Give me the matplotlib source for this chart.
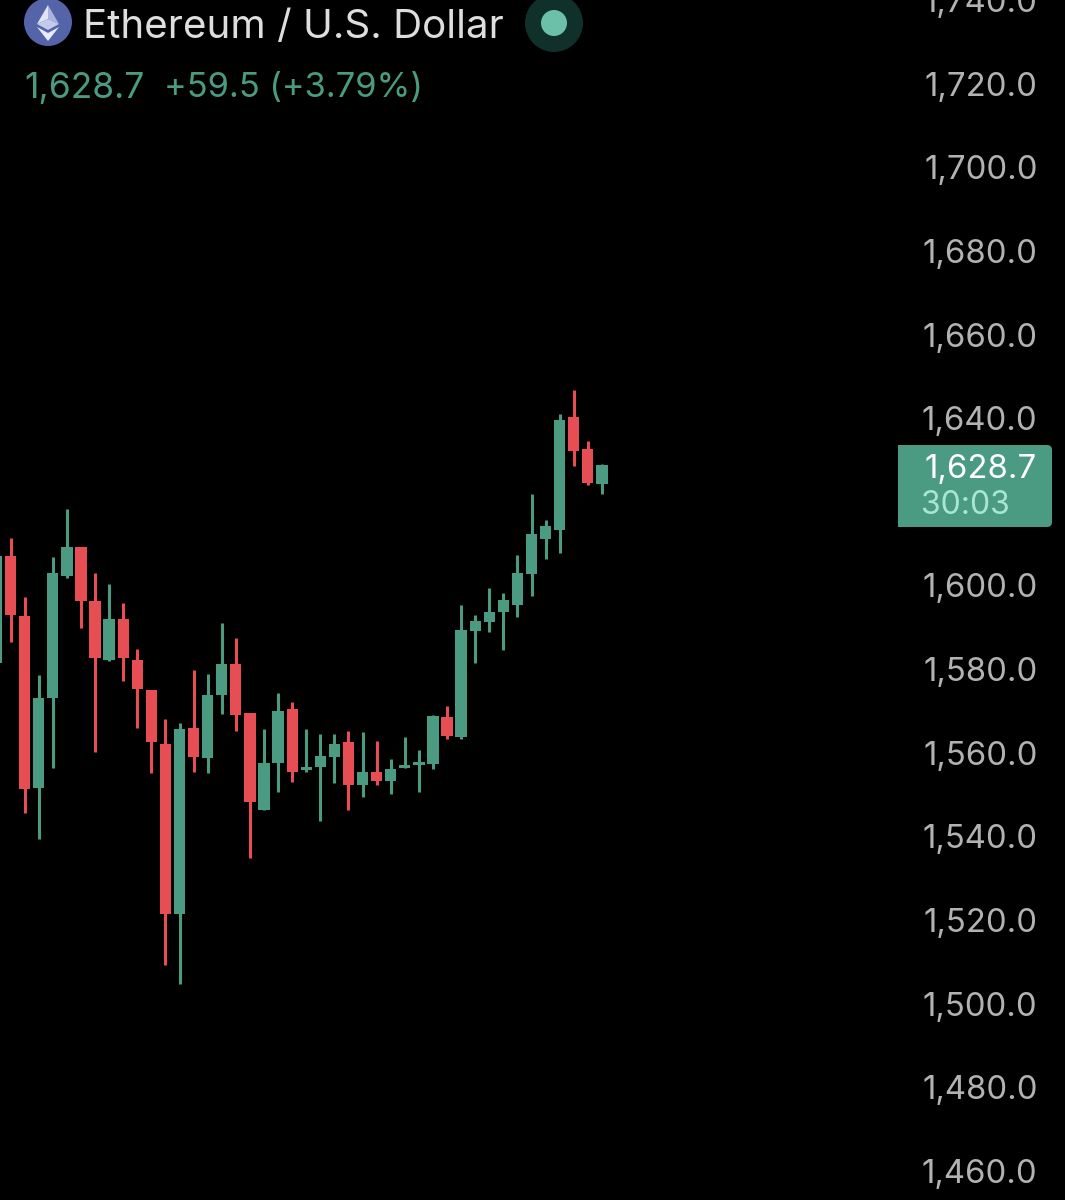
import matplotlib
matplotlib.use("Agg")
import matplotlib.pyplot as plt
from matplotlib.patches import Circle, FancyBboxPatch, Polygon, Rectangle

plt.rcParams['font.family'] = ['Inter', 'DejaVu Sans']

# candles, oldest first
opens = [1581.4, 1607.0, 1592.7, 1551.5, 1573.1, 1602.2, 1609.2, 1596.2, 1582.1, 1591.9, 1582.1,
         1575.0, 1562.1, 1521.4, 1565.9, 1558.7, 1573.8, 1581.2, 1569.5, 1546.3, 1557.5, 1570.4,
         1555.8, 1556.6, 1558.9, 1562.5, 1552.3, 1555.4, 1553.2, 1556.3, 1557.0, 1557.3, 1568.5,
         1563.7, 1589.1, 1591.2, 1593.6, 1595.3, 1602.7, 1611.1, 1613.2, 1640.2, 1632.6, 1624.2]
closes = [1607.0, 1592.9, 1551.3, 1573.1, 1602.9, 1609.2, 1596.2, 1582.6, 1591.9, 1582.6, 1575.2,
          1562.5, 1521.4, 1565.6, 1558.9, 1573.8, 1581.2, 1569.0, 1548.2, 1557.5, 1569.9, 1555.4,
          1556.6, 1559.2, 1562.1, 1552.3, 1555.4, 1553.2, 1556.1, 1557.0, 1557.7, 1568.7, 1564.0,
          1589.3, 1591.5, 1593.6, 1596.5, 1602.9, 1612.3, 1614.2, 1639.5, 1632.1, 1624.5, 1628.7]
highs = [1607.0, 1611.3, 1597.2, 1578.6, 1606.8, 1618.2, 1609.3, 1602.9, 1600.3, 1595.8, 1584.8,
         1575.0, 1568.0, 1567.1, 1579.7, 1578.8, 1591.0, 1587.4, 1569.5, 1565.6, 1574.2, 1572.1,
         1565.6, 1564.4, 1564.4, 1565.2, 1564.9, 1562.8, 1558.5, 1563.7, 1560.6, 1569.0, 1571.1,
         1595.3, 1592.9, 1599.4, 1598.2, 1607.2, 1621.8, 1615.6, 1641.0, 1646.7, 1634.5, 1629.0]
lows = [1581.4, 1586.4, 1545.6, 1539.3, 1556.3, 1601.7, 1589.8, 1560.1, 1581.9, 1577.1, 1565.9,
        1555.1, 1509.2, 1504.7, 1555.4, 1555.1, 1569.2, 1565.2, 1534.8, 1546.3, 1550.6, 1553.0,
        1555.4, 1543.6, 1552.7, 1546.3, 1549.4, 1552.3, 1550.1, 1556.3, 1550.6, 1556.1, 1563.2,
        1563.2, 1581.4, 1588.8, 1584.5, 1592.4, 1597.4, 1606.3, 1607.7, 1628.5, 1624.0, 1621.8]

price_ticks = [1460, 1480, 1500, 1520, 1540, 1560, 1580, 1600, 1640, 1660, 1680, 1700, 1720, 1740]
price_labels = ["{:,.1f}".format(p) for p in price_ticks]

GREEN = "#4a9b82"
RED = "#e64e54"

fig = plt.figure(figsize=(10.65, 12), dpi=100, facecolor="black")
ax = fig.add_axes([0, 0, 1, 1], facecolor="black")

for i in range(len(opens)):
    color = GREEN if closes[i] >= opens[i] else RED
    ax.vlines(i, lows[i], highs[i], color=color, linewidth=2.2, zorder=2)
    ax.bar(i, abs(closes[i] - opens[i]), bottom=min(opens[i], closes[i]), width=0.8,
           color=color, linewidth=0, zorder=3)

# x: first candle sits just off the left edge, spacing about 14.08 px
ax.set_xlim(0.25, 75.89)
ax.set_ylim(1453.0, 1740.05)

ax.yaxis.tick_right()
ax.set_yticks(price_ticks)
ax.set_yticklabels(price_labels, ha="right")
ax.tick_params(axis="y", length=0, pad=-19.8, labelsize=23.7, labelcolor="#b2b2b2")
ax.set_xticks([])
for spine in ax.spines.values():
    spine.set_visible(False)

# overlay in pixel coordinates for the header and the price badge
top = fig.add_axes([0, 0, 1, 1], facecolor="none")
top.set_xlim(0, 1065)
top.set_ylim(1200, 0)
top.axis("off")

# coin icon
top.add_patch(Circle((48, 22), 24, color="#5564a8", linewidth=0))
top.add_patch(Polygon([(48, 5), (37, 24), (48, 19)], color="#dfe3f5", linewidth=0))
top.add_patch(Polygon([(48, 5), (59, 24), (48, 19)], color="#aab3de", linewidth=0))
top.add_patch(Polygon([(37, 24), (48, 19), (59, 24), (48, 30)], color="#c3caeb", linewidth=0))
top.add_patch(Polygon([(37, 27), (48, 33), (59, 27), (48, 41)], color="#e8ebf8", linewidth=0))

top.text(83, 27, "Ethereum / U.S. Dollar", color="#dedede", fontsize=29, va="center", ha="left")
top.add_patch(Circle((554, 23), 29, color="#10302a", linewidth=0))
top.add_patch(Circle((554, 23), 13, color="#6cc0aa", linewidth=0))

top.text(24, 88, "1,628.7", color=GREEN, fontsize=25.5, va="center", ha="left")
top.text(164, 88, "+59.5 (+3.79%)", color=GREEN, fontsize=24.8, va="center", ha="left")

# last price badge, square on the left and rounded on the right
top.add_patch(FancyBboxPatch((903, 450), 144, 72, boxstyle="round,pad=5,rounding_size=5",
                             facecolor=GREEN, edgecolor="none"))
top.add_patch(Rectangle((898, 445), 20, 82, facecolor=GREEN, edgecolor="none"))
top.text(1037, 469, "1,628.7", color="white", fontsize=23.7, va="center", ha="right")
top.text(921, 506, "30:03", color="#a8e6d2", fontsize=23, va="center", ha="left")

fig.savefig("out.png", dpi=100, facecolor="black")
